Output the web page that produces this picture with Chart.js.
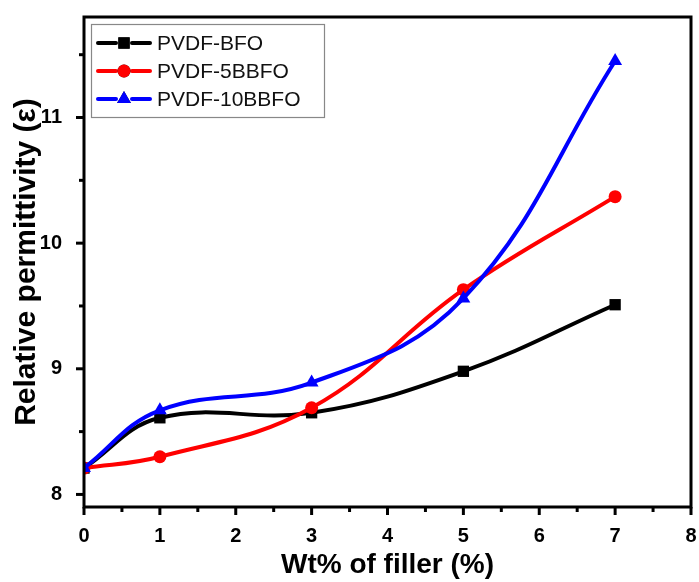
<!DOCTYPE html>
<html>
<head>
<meta charset="utf-8">
<script src="https://cdn.jsdelivr.net/npm/chart.js@4.4.1/dist/chart.umd.min.js"></script>
<style>
  html, body { margin: 0; padding: 0; background: #fff; }
</style>
</head>
<body>
<canvas id="myChart" width="699" height="582"></canvas>
<script>
// values
const filler = [0, 1, 3, 5, 7];
const bfo = [8.21, 8.61, 8.65, 8.98, 9.51];
const bbfo5 = [8.21, 8.30, 8.69, 9.63, 10.37];
const bbfo10 = [8.21, 8.67, 8.89, 9.56, 11.45];
const seriesNames = ['PVDF-BFO', 'PVDF-5BBFO', 'PVDF-10BBFO'];
const seriesColors = ['#000000', '#ff0000', '#0000ff'];
const seriesMarkers = ['rect', 'circle', 'triangle'];
const xTickValues = [0, 0.5, 1, 1.5, 2, 2.5, 3, 3.5, 4, 4.5, 5, 5.5, 6, 6.5, 7, 7.5, 8];
const yTickValues = [8, 8.5, 9, 9.5, 10, 10.5, 11, 11.5];

const FONT = "'Liberation Sans', Arial, sans-serif";

function toPoints(ys) {
  return filler.map((x, i) => ({ x: x, y: ys[i] }));
}

// frame, tick marks and the line+marker legend
const decorations = {
  id: 'decorations',
  afterDraw(chart) {
    const { ctx, chartArea: a, scales } = chart;
    const xs = scales.x, ys = scales.y;
    ctx.save();
    ctx.strokeStyle = '#000';
    ctx.lineWidth = 3;
    ctx.lineCap = 'square';
    ctx.beginPath();
    ctx.moveTo(a.left, a.top);
    ctx.lineTo(a.right, a.top);
    ctx.lineTo(a.right, a.bottom);
    ctx.lineTo(a.left, a.bottom);
    ctx.closePath();
    ctx.stroke();

    ctx.lineCap = 'butt';
    xTickValues.forEach(v => {
      const px = xs.getPixelForValue(v);
      const len = Number.isInteger(v) ? 8 : 5;
      ctx.beginPath();
      ctx.moveTo(px, a.bottom);
      ctx.lineTo(px, a.bottom + len);
      ctx.stroke();
    });
    yTickValues.forEach(v => {
      const py = ys.getPixelForValue(v);
      const len = Number.isInteger(v) ? 8 : 5;
      ctx.beginPath();
      ctx.moveTo(a.left, py);
      ctx.lineTo(a.left - len, py);
      ctx.stroke();
    });

    // legend box
    ctx.lineWidth = 1.2;
    ctx.strokeStyle = '#888';
    ctx.strokeRect(91.5, 24.5, 233, 93);
    ctx.font = '21px ' + FONT;
    ctx.textBaseline = 'middle';
    ctx.lineCap = 'round';
    chart.data.datasets.forEach((ds, i) => {
      const y = 43 + i * 28;
      ctx.strokeStyle = ds.borderColor;
      ctx.lineWidth = 4;
      ctx.beginPath(); ctx.moveTo(98, y); ctx.lineTo(116, y); ctx.stroke();
      ctx.beginPath(); ctx.moveTo(132, y); ctx.lineTo(150, y); ctx.stroke();
      Chart.helpers.drawPoint(ctx, {
        pointStyle: ds.pointStyle, radius: ds.pointRadius, borderWidth: 0
      }, 124, y);
      ctx.fillStyle = ds.borderColor;
      ctx.fill();
      ctx.fillStyle = '#111';
      ctx.fillText(ds.label, 157, y + 1);
    });
    ctx.restore();
  }
};

function noScalePadding(scale) {
  scale.paddingLeft = 0;
  scale.paddingRight = 0;
  scale.paddingTop = 0;
  scale.paddingBottom = 0;
}

const ctx = document.getElementById('myChart');
const sets = [bfo, bbfo5, bbfo10].map((ys, i) => ({
  label: seriesNames[i],
  data: toPoints(ys),
  borderColor: seriesColors[i],
  backgroundColor: seriesColors[i],
  pointBackgroundColor: seriesColors[i],
  pointBorderWidth: 0,
  pointStyle: seriesMarkers[i],
  pointRadius: seriesMarkers[i] === 'circle' ? 6.5 : 8,
  borderWidth: 4,
  tension: 0.4,
  order: 2 - i
}));

new Chart(ctx, {
  type: 'line',
  data: { datasets: sets },
  options: {
    responsive: false,
    animation: false,
    layout: { padding: { left: 0, right: 7, top: 17, bottom: 0 } },
    plugins: { legend: { display: false }, tooltip: { enabled: false } },
    scales: {
      x: {
        type: 'linear',
        min: 0, max: 8,
        grid: { display: false },
        border: { display: false },
        afterBuildTicks(scale) { scale.ticks = xTickValues.filter(Number.isInteger).map(v => ({ value: v })); },
        ticks: {
          autoSkip: false,
          maxRotation: 0,
          padding: 9,
          color: '#000',
          font: { family: FONT, size: 20, weight: 'bold' }
        },
        title: {
          display: true,
          text: 'Wt% of filler (%)',
          color: '#000',
          padding: { top: 0, bottom: 0 },
          font: { family: FONT, size: 28, weight: 'bold' }
        },
        afterFit(scale) { scale.height = 75; noScalePadding(scale); }
      },
      y: {
        min: 7.9, max: 11.8,
        grid: { display: false },
        border: { display: false },
        afterBuildTicks(scale) { scale.ticks = yTickValues.filter(Number.isInteger).map(v => ({ value: v })); },
        ticks: {
          autoSkip: false,
          padding: 14,
          color: '#000',
          font: { family: FONT, size: 20, weight: 'bold' }
        },
        title: {
          display: true,
          text: 'Relative permittivity (ε)',
          color: '#000',
          padding: { top: 9, bottom: 0 },
          font: { family: FONT, size: 30, weight: 'bold' }
        },
        afterFit(scale) { scale.width = 84; noScalePadding(scale); }
      }
    }
  },
  plugins: [decorations]
});
</script>
</body>
</html>
